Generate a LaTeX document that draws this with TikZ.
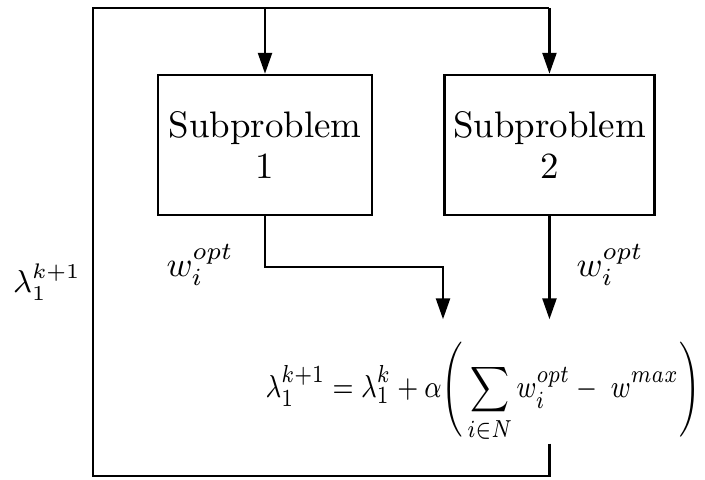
\documentclass[tikz,border=0pt]{standalone}
\usepackage{amsmath}
\usepackage{tikz}
\usetikzlibrary{arrows.meta,positioning}
\tikzset{
  subbox/.style={draw,line width=0.7pt,minimum width=2.14cm,minimum height=1.40cm,
    align=center,inner sep=2pt,font=\fontsize{10.5}{11.7}\selectfont},
  feedarrow/.style={-{Triangle[length=2.1mm,width=1.4mm]},line width=0.7pt},
  loopline/.style={line width=0.7pt}
}
\begin{document}
\begin{tikzpicture}
\useasboundingbox (0,0) rectangle (7.05,4.80);
\node[subbox] (sub1) at (2.65,3.35) {Subproblem\\1};
\node[subbox,minimum width=2.10cm,right=0.70cm of sub1] (sub2) {Subproblem\\2};
\node[anchor=base,inner sep=0pt,text height=0.78cm,text depth=0.45cm,
  font=\fontsize{9.5}{11}\selectfont] (update) at (4.83,0.82)
  {\scalebox{0.83}[1]{$\displaystyle \lambda_1^{k+1} = \lambda_1^k + \alpha\Bigg(\sum_{i\in N} w_i^{opt} - \; w^{max}\Bigg)$}};
\node (wleft) at (2.00,2.15) {$w_i^{opt}$};
\node (wright) at (6.10,2.15) {$w_i^{opt}$};
\node[font=\fontsize{9}{11}\selectfont] (lambda) at (0.47,1.98) {$\lambda_1^{k+1}$};
\coordinate (topleft) at (0.93,4.72);
\coordinate (botleft) at (0.93,0.04);
\coordinate (bend) at (4.43,2.13);
% outputs of the subproblems
\draw[feedarrow] (sub1.south) |- (bend) -- (bend |- update.north);
\draw[feedarrow] (sub2.south) -- (sub2.south |- update.north);
% multiplier fed back
\draw[loopline] (update.south -| sub2.south) |- (botleft) -- (topleft) -- (topleft -| sub2.north);
\draw[feedarrow] (topleft -| sub1.north) -- (sub1.north);
\draw[feedarrow] (topleft -| sub2.north) -- (sub2.north);
\end{tikzpicture}
\end{document}
